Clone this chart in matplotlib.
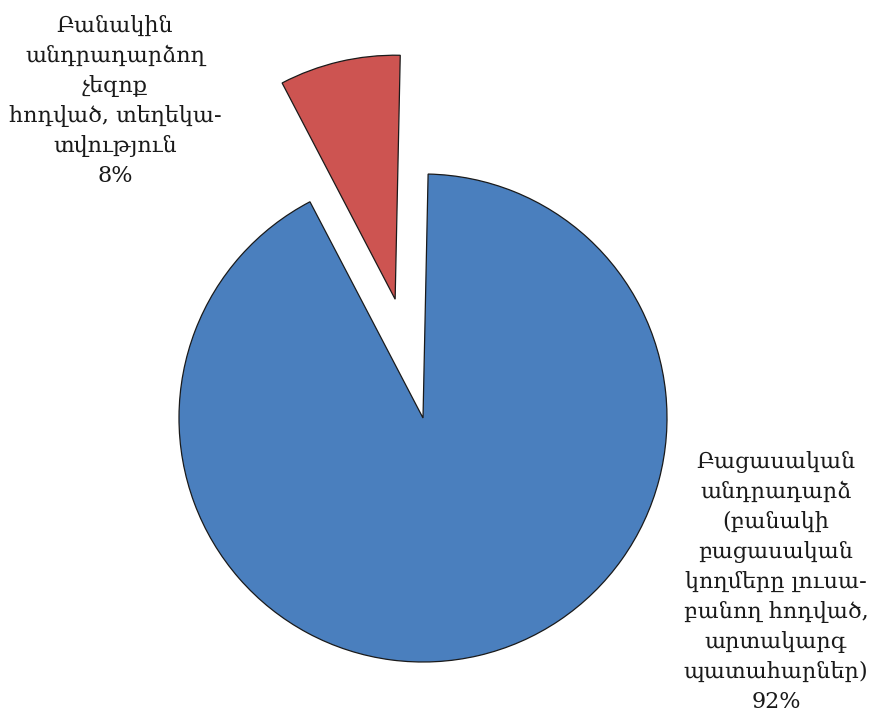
import matplotlib
matplotlib.use('Agg')
import matplotlib.pyplot as plt

# share of articles by type
labels = ['Բանակին\nանդրադարձող\nչեզոք\nհոդված, տեղեկա-\nտվություն',
          'Բացասական\nանդրադարձ\n(բանակի\nբացասական\nկողմերը լուսա-\nբանող հոդված,\nարտակարգ\nպատահարներ)']
values = [8, 92]
colors = ['#cd5451', '#4a7fbe']
explode = [0.5, 0]

fig = plt.figure(figsize=(8.71, 7.22), dpi=100)
ax = fig.add_axes([0, 0, 1, 1])

r = 244
# pie's explode is in data units, so scale it by the radius
ax.pie(values, colors=colors, explode=[e * r for e in explode], startangle=88.8,
       center=(423, 304), radius=r,
       wedgeprops=dict(edgecolor='#1a1a1a', linewidth=0.9))
ax.set_xlim(0, 871)
ax.set_ylim(0, 722)
ax.set_aspect('equal')
ax.axis('off')

label_pos = [(115, 621), (776, 140)]
for lab, v, (x, y) in zip(labels, values, label_pos):
    ax.text(x, y, f'{lab}\n{v}%', ha='center', va='center',
            family='DejaVu Serif', fontsize=16, linespacing=1.47, color='#1a1a1a')

fig.savefig('out.png', dpi=100)
